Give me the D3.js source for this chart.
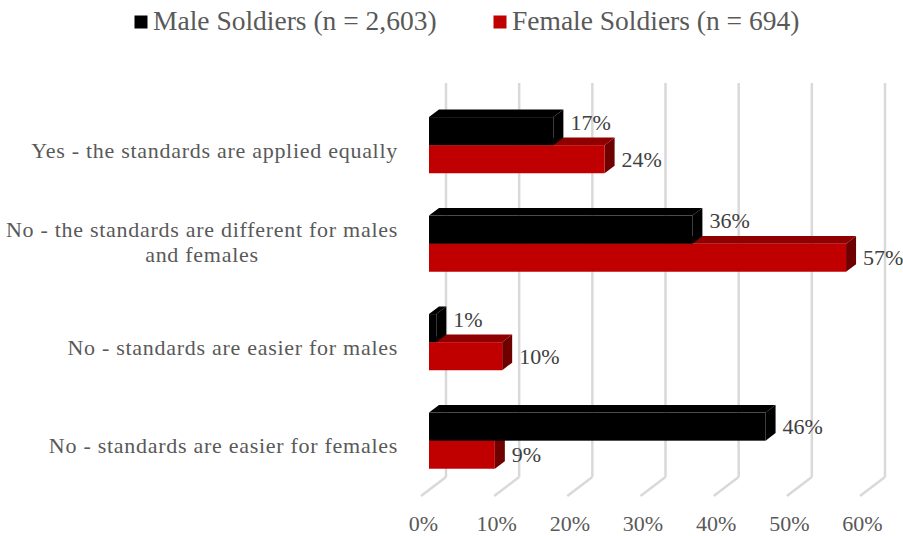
<!DOCTYPE html>
<html>
<head>
<meta charset="utf-8">
<script src="https://cdn.jsdelivr.net/npm/d3@7"></script>
<style>
  body { margin: 0; background: #fff; }
</style>
</head>
<body>
<div class="container"></div>
<script>
var svgWidth = 903;
var svgHeight = 536;
var fontFamily = "Liberation Serif";

// data
var categories = [
  "Yes - the standards are applied equally",
  "No - the standards are different for males and females",
  "No - standards are easier for males",
  "No - standards are easier for females"
];
var categoryLines = [
  ["Yes - the standards are applied equally"],
  ["No - the standards are different for males", "and females"],
  ["No - standards are easier for males"],
  ["No - standards are easier for females"]
];
var seriesNames = ["Male Soldiers (n = 2,603)", "Female Soldiers (n = 694)"];
var maleValues = [17, 36, 1, 46];
var femaleValues = [24, 57, 10, 9];
var tickValues = [0, 10, 20, 30, 40, 50, 60];

// 3D look: depth goes up and to the right
var depthX = 25;     // whole floor depth in px (x)
var slope = 0.76;    // dy per dx of depth
var barFront = 8;    // depth of bar front face
var barBack = 18;    // depth of bar back face

var svg = d3.select(".container")
  .append("svg")
  .attr("width", svgWidth)
  .attr("height", svgHeight);

// x scale on the front plane
var xScale = d3.scaleLinear()
  .domain([0, 60])
  .range([421, 860]);

// category bands on the front plane
var yScale = d3.scaleBand()
  .domain(categories)
  .range([102, 496])
  .paddingInner(0.43)
  .paddingOuter(0.215);

var ySeries = d3.scaleBand()
  .domain(["male", "female"])
  .range([0, yScale.bandwidth()]);

function px(v, d) { return xScale(v) + d; }
function py(y, d) { return y - d * slope; }

var floorFront = 496;
var floorBack = py(floorFront, depthX);
var wallTop = py(102, depthX);

// gridlines: back wall + floor
var grid = svg.append("g");
tickValues.forEach(function(t) {
  grid.append("line")
    .attr("x1", px(t, depthX)).attr("x2", px(t, depthX))
    .attr("y1", wallTop).attr("y2", floorBack)
    .attr("stroke", "#d9d9d9").attr("stroke-width", 2.5);
  grid.append("line")
    .attr("x1", px(t, depthX)).attr("x2", px(t, 0))
    .attr("y1", floorBack).attr("y2", floorFront)
    .attr("stroke", "#d9d9d9").attr("stroke-width", 2.5);
});

// draw one 3D bar
function drawBar(g, v, yTop, yBot, front, top, side) {
  var x0 = xScale(0), x1 = xScale(v);
  g.append("polygon")
    .attr("points", [
      [x0 + barFront, py(yTop, barFront)],
      [x1 + barFront, py(yTop, barFront)],
      [x1 + barBack, py(yTop, barBack)],
      [x0 + barBack, py(yTop, barBack)]
    ].join(" "))
    .attr("fill", top);
  g.append("polygon")
    .attr("points", [
      [x1 + barFront, py(yTop, barFront)],
      [x1 + barBack, py(yTop, barBack)],
      [x1 + barBack, py(yBot, barBack)],
      [x1 + barFront, py(yBot, barFront)]
    ].join(" "))
    .attr("fill", side);
  g.append("rect")
    .attr("x", x0 + barFront)
    .attr("y", py(yTop, barFront))
    .attr("width", x1 - x0)
    .attr("height", yBot - yTop)
    .attr("fill", front);
}

var bars = svg.append("g");
var labels = svg.append("g")
  .attr("fill", "#404040");

categories.forEach(function(c, i) {
  var g = bars.append("g");
  var fTop = yScale(c) + ySeries("female");
  var mTop = yScale(c) + ySeries("male");
  var h = ySeries.bandwidth();
  // female first, male drawn above it
  drawBar(g, femaleValues[i], fTop, fTop + h, "#c00000", "#8f0000", "#6e0000");
  drawBar(g, maleValues[i], mTop, mTop + h, "#000000", "#000000", "#000000");

  var fMid = py(fTop + h / 2, barFront);
  var mMid = py(mTop + h / 2, barFront);
  if (femaleValues[i] > maleValues[i]) mMid -= 9;

  labels.append("text")
    .attr("x", px(femaleValues[i], barBack) + 7)
    .attr("y", fMid + 7.5)
    .text(femaleValues[i] + "%");
  labels.append("text")
    .attr("x", px(maleValues[i], barBack) + 7)
    .attr("y", mMid + 7.5)
    .text(maleValues[i] + "%");
});
labels.selectAll("text")
  .style("font-family", fontFamily)
  .style("font-size", "22px");

// category labels (multi-line ones are centred under the first line)
var catLabels = svg.append("g")
  .attr("fill", "#595959");
categories.forEach(function(c, i) {
  var mid = yScale(c) + yScale.bandwidth() / 2;
  var lines = categoryLines[i];
  var t = catLabels.append("text")
    .style("font-family", fontFamily)
    .style("font-size", "22px")
    .style("letter-spacing", "0.72px");
  var first = t.append("tspan")
    .attr("x", 398)
    .attr("y", lines.length === 1 ? mid + 6.5 : mid - 12.5)
    .attr("text-anchor", "end")
    .text(lines[0]);
  var centre = 398 - first.node().getComputedTextLength() / 2;
  lines.slice(1).forEach(function(line, j) {
    t.append("tspan")
      .attr("x", centre)
      .attr("y", mid + 12.5 + j * 25)
      .attr("text-anchor", "middle")
      .text(line);
  });
});

// x axis labels
var xAxis = d3.axisBottom(xScale)
  .tickValues(tickValues)
  .tickSize(0)
  .tickPadding(3)
  .tickFormat(function(d) { return d + "%"; });
var axisG = svg.append("g")
  .attr("transform", "translate(2, 512)")
  .call(xAxis);
axisG.select(".domain").remove();
axisG.selectAll("text")
  .attr("fill", "#595959")
  .style("font-family", fontFamily)
  .style("font-size", "22px");

// legend
var legend = svg.append("g")
  .attr("fill", "#595959");
var legendX = [134.5, 493.5];
var legendColors = ["#000000", "#c00000"];
seriesNames.forEach(function(s, i) {
  legend.append("rect")
    .attr("x", legendX[i]).attr("y", 15.5)
    .attr("width", 13).attr("height", 13)
    .attr("fill", legendColors[i]);
  legend.append("text")
    .attr("x", legendX[i] + 18.5)
    .attr("y", 30)
    .style("font-family", fontFamily)
    .style("font-size", "27.5px")
    .text(s);
});
</script>
</body>
</html>
